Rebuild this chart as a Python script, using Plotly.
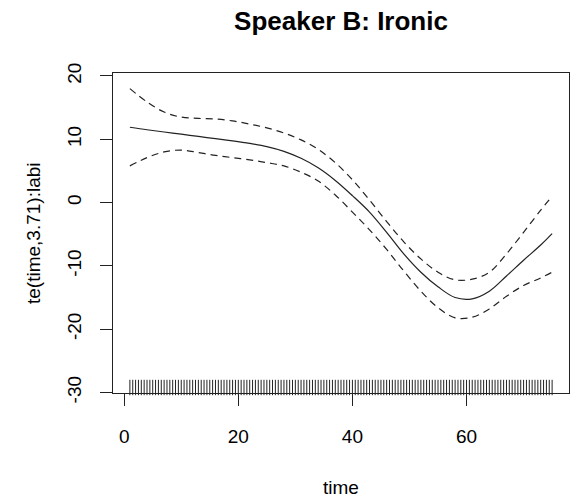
import plotly.graph_objects as go

# ---- data ----
time_grid = [1, 4, 7, 10, 13, 16, 19, 22, 25, 28, 31, 34, 37, 40, 43, 46, 49, 52, 55, 58, 61, 64, 67, 70, 73, 75]
fit = [11.9, 11.5, 11.15, 10.8, 10.45, 10.1, 9.75, 9.35, 8.85, 8.1, 7.0, 5.5, 3.5, 1.1, -1.5, -4.7, -8.1, -11.0,
       -13.3, -15.0, -15.2, -14.0, -11.6, -9.1, -6.7, -4.9]
upper = [18.0, 15.9, 14.3, 13.5, 13.3, 13.2, 12.9, 12.4, 11.8, 11.0, 9.9, 8.4, 6.3, 3.6, 0.4, -3.0, -6.2, -8.9,
         -11.0, -12.2, -12.1, -11.0, -8.1, -4.7, -1.2, 1.0]
lower = [5.8, 7.1, 8.0, 8.3, 7.9, 7.45, 7.1, 6.75, 6.3, 5.8, 4.8, 3.4, 1.2, -1.5, -4.3, -7.4, -10.8, -14.0,
         -16.6, -18.2, -18.1, -16.8, -14.8, -13.1, -11.9, -11.0]
rug_times = [1, 1.5, 2, 2.5, 3, 3.5, 4, 4.5, 5, 5.5, 6, 6.5, 7, 7.5, 8, 8.5, 9, 9.5, 10, 10.5,
             11, 11.5, 12, 12.5, 13, 13.5, 14, 14.5, 15, 15.5, 16, 16.5, 17, 17.5, 18, 18.5, 19, 19.5, 20, 20.5,
             21, 21.5, 22, 22.5, 23, 23.5, 24, 24.5, 25, 25.5, 26, 26.5, 27, 27.5, 28, 28.5, 29, 29.5, 30, 30.5,
             31, 31.5, 32, 32.5, 33, 33.5, 34, 34.5, 35, 35.5, 36, 36.5, 37, 37.5, 38, 38.5, 39, 39.5, 40, 40.5,
             41, 41.5, 42, 42.5, 43, 43.5, 44, 44.5, 45, 45.5, 46, 46.5, 47, 47.5, 48, 48.5, 49, 49.5, 50, 50.5,
             51, 51.5, 52, 52.5, 53, 53.5, 54, 54.5, 55, 55.5, 56, 56.5, 57, 57.5, 58, 58.5, 59, 59.5, 60, 60.5,
             61, 61.5, 62, 62.5, 63, 63.5, 64, 64.5, 65, 65.5, 66, 66.5, 67, 67.5, 68, 68.5, 69, 69.5, 70, 70.5,
             71, 71.5, 72, 72.5, 73, 73.5, 74, 74.5, 75]
x_ticks = [0, 20, 40, 60]
x_tick_labels = ["0", "20", "40", "60"]
y_ticks = [-30, -20, -10, 0, 10, 20]
y_tick_labels = ["-30", "-20", "-10", "0", "10", "20"]

title_text = "Speaker B: Ironic"
x_label = "time"
y_label = "te(time,3.71):labi"

FONT = "Liberation Sans, Arial, Helvetica, sans-serif"
INK = "#222222"

y_range = [-30.08, 20.47]

fig = go.Figure()
fig.add_trace(go.Scatter(x=time_grid, y=fit, mode="lines",
                         line=dict(color=INK, width=1.2, shape="spline", smoothing=1.0),
                         showlegend=False, hoverinfo="skip"))
for band in (upper, lower):
    fig.add_trace(go.Scatter(x=time_grid, y=band, mode="lines",
                             line=dict(color=INK, width=1.2, dash="7px,5px", shape="spline", smoothing=1.0),
                             showlegend=False, hoverinfo="skip"))

# rug: short vertical ticks sitting on the bottom of the plot region
rug_y = [y_range[0] + 5.5 / 6.33] * len(rug_times)
fig.add_trace(go.Scatter(x=rug_times, y=rug_y, mode="markers",
                         marker=dict(symbol="line-ns", size=11, line=dict(color=INK, width=1)),
                         showlegend=False, hoverinfo="skip", cliponaxis=False))

axis_common = dict(showline=True, mirror=True, linecolor=INK, linewidth=1, ticks="outside", ticklen=12,
                   tickcolor=INK, tickwidth=1, showgrid=False, zeroline=False, automargin=False,
                   tickfont=dict(family=FONT, size=19, color="black"))

fig.update_layout(
    width=571, height=498,
    margin=dict(l=113, r=2, t=73, b=105, autoexpand=False),
    paper_bgcolor="white", plot_bgcolor="white",
    title=dict(text="<b>" + title_text + "</b>", x=0.5, xref="paper", xanchor="center",
               y=1 - 21 / 498, yref="container", yanchor="middle", automargin=False,
               font=dict(family=FONT, size=26, color="black")),
    xaxis=dict(range=[-1.96, 77.96], tickvals=x_ticks, ticktext=x_tick_labels, ticklabelstandoff=14,
               **axis_common),
    yaxis=dict(range=y_range, tickvals=y_ticks, ticktext=y_tick_labels, tickangle=-90, ticklabelstandoff=11,
               **axis_common),
    annotations=[
        dict(text=x_label, x=0.5, y=(393 - 487) / 320, xref="paper", yref="paper", showarrow=False,
             xanchor="center", yanchor="middle", font=dict(family=FONT, size=19, color="black")),
        dict(text=y_label, x=(33 - 113) / 456, y=0.5, xref="paper", yref="paper", showarrow=False,
             textangle=-90, xanchor="center", yanchor="middle", font=dict(family=FONT, size=19, color="black")),
    ],
)

fig.write_html("out.html", config={"displayModeBar": False},
               post_script="document.body.style.margin='0';document.body.style.overflow='hidden';")
